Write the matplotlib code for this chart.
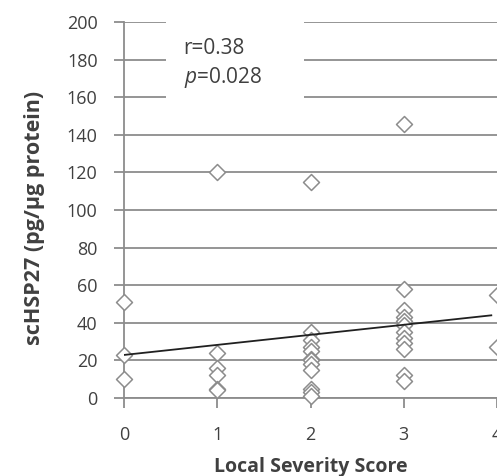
import matplotlib
matplotlib.use("Agg")
import matplotlib.pyplot as plt
from matplotlib.patches import Rectangle

# Data
x_vals = [0, 0, 0,
          1, 1, 1, 1, 1, 1,
          2, 2, 2, 2, 2, 2, 2, 2, 2, 2, 2, 2,
          3, 3, 3, 3, 3, 3, 3, 3, 3, 3, 3, 3,
          4, 4]
y_vals = [51, 23, 10,
          120, 24, 16, 12, 5, 4,
          115, 35, 31, 27, 25, 21, 20, 18, 15, 5, 3, 1,
          146, 58, 47, 43, 41, 39, 35, 32, 29, 26, 12, 9,
          55, 27]
trend_intercept = 22.9
trend_slope = 5.35
x_ticks = [0, 1, 2, 3, 4]
y_ticks = [0, 20, 40, 60, 80, 100, 120, 140, 160, 180, 200]
r_text = "r=0.38"
p_text = "$\\it{p}$=0.028"

plt.rcParams['font.family'] = ['Open Sans', 'DejaVu Sans']
plt.rcParams['mathtext.fontset'] = 'custom'
plt.rcParams['mathtext.it'] = 'Open Sans:italic'
plt.rcParams['mathtext.rm'] = 'Open Sans'

W, H = 497, 476
fig = plt.figure(figsize=(W / 100, H / 100), dpi=100)
ax = fig.add_axes([124 / W, 78 / H, (W - 124) / W, 376 / H])

gray = "#8c8c8c"
txt = "#404040"
xmax = (W - 124) / 94.7
ax.set_xlim(0, xmax)
ax.set_ylim(0, 200)

ax.set_yticks(y_ticks)
ax.set_xticks(x_ticks)
ax.grid(axis='y', color=gray, linewidth=1.3, zorder=0)
ax.set_axisbelow(True)
for s in ['top', 'right']:
    ax.spines[s].set_visible(False)
for s in ['left', 'bottom']:
    ax.spines[s].set_color(gray)
    ax.spines[s].set_linewidth(1.3)
ax.tick_params(axis='both', direction='out', length=7, width=1.3, color=gray,
               labelcolor=txt, labelsize=13)
ax.tick_params(axis='y', pad=12)
ax.tick_params(axis='x', pad=13)

ax.scatter(x_vals, y_vals, marker='D', s=66, facecolors='white', edgecolors=gray,
           linewidths=1.1, zorder=3, clip_on=False)

tx = [0, xmax]
ty = [trend_intercept + trend_slope * t for t in tx]
ax.plot(tx, ty, color="#202020", linewidth=1.3, zorder=4)

# white box behind the annotation
ax.add_patch(Rectangle((0.45, 153), 1.48, 60, facecolor='white', edgecolor='none',
                       zorder=2, clip_on=False))
ax.text(0.64, 186, r_text, fontsize=15, color=txt, va='center', ha='left', zorder=5)
ax.text(0.64, 170.5, p_text, fontsize=15, color=txt, va='center', ha='left', zorder=5)

ax.set_xlabel("Local Severity Score", fontsize=14, fontweight='bold', color=txt)
ax.xaxis.set_label_coords(0.5, -0.157)
ax.set_ylabel("scHSP27 (pg/µg protein)", fontsize=15.5, fontweight='bold', color=txt)
ax.yaxis.set_label_coords(-0.212, 0.48)

fig.savefig("out.png", dpi=100)
